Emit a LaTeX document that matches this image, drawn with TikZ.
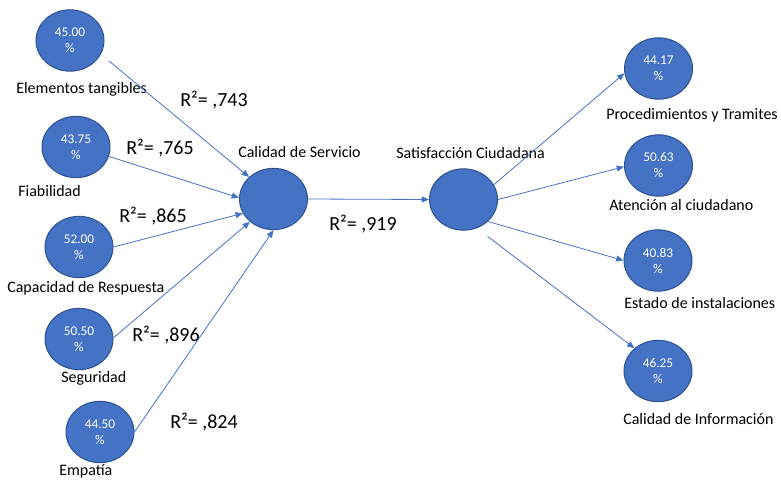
\documentclass[tikz,border=0pt]{standalone}
\usepackage{fontspec}
\setmainfont{Carlito}
\usetikzlibrary{arrows.meta, shapes.geometric}

\begin{document}
\begin{tikzpicture}[x=0.75pt,y=0.75pt,yscale=-1,xscale=1,
    var/.style={ellipse, draw={rgb, 255:red, 47; green, 82; blue, 143}, line width=0.75, fill={rgb, 255:red, 68; green, 114; blue, 196}, minimum width=51pt, minimum height=46pt, inner sep=0pt, text=white, align=center, font=\fontsize{10}{12}\selectfont},
    lbl/.style={anchor=base west, inner sep=0pt, font=\fontsize{12}{14.4}\selectfont},
    rsq/.style={anchor=base west, inner sep=0pt, font=\fontsize{15}{18}\selectfont},
    link/.style={draw={rgb, 255:red, 68; green, 114; blue, 196}, line width=0.6, -{Triangle[length=5.5pt,width=4.5pt]}}]
    \useasboundingbox (0,0) rectangle (781,479);
    
    %Shapes: Ellipse (dimensiones)
    \node [var] (elem) at (70,40.5) {45.00\\\%};
    \node [var] (fiab) at (76,147) {43.75\\\%};
    \node [var] (capr) at (79,247) {52.00\\\%};
    \node [var] (segu) at (79,339) {50.50\\\%};
    \node [var] (empa) at (100,432) {44.50\\\%};
    %Shapes: Ellipse (variables)
    \node [var] (cals) at (273.5,199) {};
    \node [var] (satc) at (463.5,199.5) {};
    %Shapes: Ellipse (indicadores)
    \node [var] (proc) at (658.5,68.5) {44.17\\\%};
    \node [var] (aten) at (658.5,165.5) {50.63\\\%};
    \node [var] (esta) at (658,260.5) {40.83\\\%};
    \node [var] (cinf) at (658,371) {46.25\\\%};
    
    % Text Node
    \node [lbl] (lelem) at (16,93) {Elementos tangibles};
    \node [lbl] (lfiab) at (18,196) {Fiabilidad};
    \node [lbl] (lcapr) at (7,292) {Capacidad de Respuesta};
    \node [lbl] (lsegu) at (61,382) {Seguridad};
    \node [lbl] (lempa) at (59,475) {Empatía};
    \node [lbl] (lcals) at (238,157) {Calidad de Servicio};
    \node [lbl] (lsatc) at (396,158) {Satisfacción Ciudadana};
    \node [lbl] (lproc) at (606,119) {Procedimientos y Tramites};
    \node [lbl] (laten) at (609,210) {Atención al ciudadano};
    \node [lbl] (lesta) at (624,308) {Estado de instalaciones};
    \node [lbl] (lcinf) at (623,424) {Calidad de Información};
    
    % Text Node (R2)
    \node [rsq] (r1) at (180,106) {R²= ,743};
    \node [rsq] (r2) at (126,154) {R²= ,765};
    \node [rsq] (r3) at (119,222) {R²= ,865};
    \node [rsq] (r4) at (132,341) {R²= ,896};
    \node [rsq] (r5) at (170,428) {R²= ,824};
    \node [rsq] (r6) at (329,230) {R²= ,919};
    
    %Straight Lines
    \draw [link, shorten <=7.5pt] (elem.-24) -- (cals.138);
    \draw [link] (fiab.-16) -- (cals.178);
    \draw [link] (capr.0) -- (cals.205);
    \draw [link] (segu.2) -- (cals.224);
    \draw [link] (empa.0) -- (cals.270);
    \draw [link] (cals.east) -- (satc.west);
    \draw [link] (satc.26) -- (proc.188);
    \draw [link] (satc.0) -- (aten.182);
    \draw [link] (satc.-42.6) -- (esta.180);
    \draw [link, shorten <=10pt] (satc.-65) -- (cinf.136);
    
\end{tikzpicture}
\end{document}
